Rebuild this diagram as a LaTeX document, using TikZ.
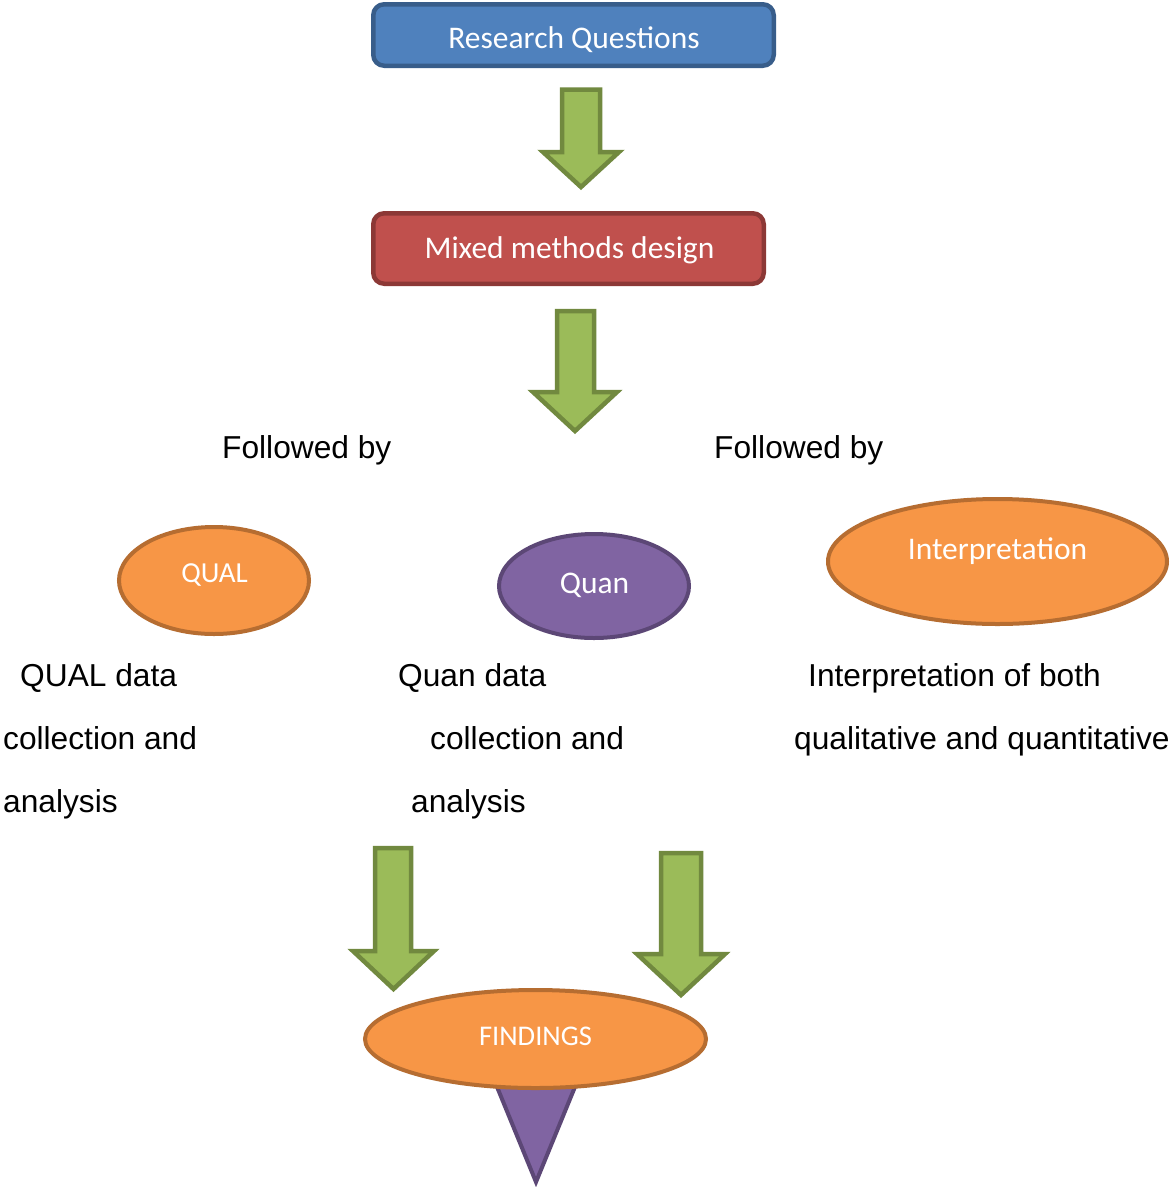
\documentclass[tikz,border=0pt]{standalone}
\usepackage{fontspec}
\setmainfont{Liberation Sans}
\newfontfamily\calibri{Carlito}
\usetikzlibrary{shapes.geometric}

\definecolor{blueFill}{HTML}{4F81BD}
\definecolor{blueLine}{HTML}{385D8A}
\definecolor{redFill}{HTML}{C0504D}
\definecolor{redLine}{HTML}{8C3836}
\definecolor{greenFill}{HTML}{9BBB59}
\definecolor{greenLine}{HTML}{71893F}
\definecolor{orangeFill}{HTML}{F79646}
\definecolor{orangeLine}{HTML}{B66D31}
\definecolor{purpleFill}{HTML}{8064A2}
\definecolor{purpleLine}{HTML}{5C4776}

% block arrow pointing down:
% #1,#2 shaft left/right, #3 shaft top, #4,#5 head left/right, #6 head top, #7 tip
\newcommand\blockdown[7]{%
  \draw[greenarrow] (#1,#3) -- (#2,#3) -- (#2,#6) -- (#5,#6)
    -- ({(#4+#5)/2},#7) -- (#4,#6) -- (#1,#6) -- cycle;}

\begin{document}
\begin{tikzpicture}[x=1pt,y=-1pt,
  greenarrow/.style={fill=greenFill,draw=greenLine,line width=4.5pt,line join=miter},
  boxshape/.style={rectangle,rounded corners=11pt,line width=4.5pt,inner sep=0pt},
  oval/.style={ellipse,line width=4pt,inner sep=0pt},
  inlabel/.style={text=white,inner sep=0pt,anchor=base,font=\calibri\fontsize{31.5}{36}\selectfont},
  smalllabel/.style={inlabel,font=\calibri\fontsize{29}{34}\selectfont},
  bodytext/.style={inner sep=0pt,anchor=base west,font=\fontsize{31.7}{38}\selectfont}]

\fill[white] (0,0) rectangle (1173,1187);
\useasboundingbox (0,0) rectangle (1173,1187);

% top boxes
\node[boxshape,fill=blueFill,draw=blueLine,minimum width=400.5pt,minimum height=61.5pt] (rq) at (573.5,35) {};
\node[inlabel] (rqtext) at (574,48) {Research Questions};

\blockdown{562}{600}{89.5}{543}{619}{152}{187}

\node[boxshape,fill=redFill,draw=redLine,minimum width=390.5pt,minimum height=70.5pt] (mm) at (568.5,248.5) {};
\node[inlabel] (mmtext) at (569.5,258) {Mixed methods design};

\blockdown{557}{594}{311}{533}{617}{392}{431}

% connecting phrases
\node[bodytext] (fb1) at (222,458) {Followed by};
\node[bodytext] (fb2) at (714,458) {Followed by};

% the three strands
\node[oval,fill=orangeFill,draw=orangeLine,minimum width=190pt,minimum height=107pt] (qual) at (214,580.5) {};
\node[smalllabel] (qualtext) at (214.5,582) {QUAL};

\node[oval,fill=purpleFill,draw=purpleLine,minimum width=190pt,minimum height=104pt] (quan) at (594,586) {};
\node[inlabel] (quantext) at (594.5,593) {Quan};

\node[oval,fill=orangeFill,draw=orangeLine,minimum width=339pt,minimum height=125pt] (interp) at (997.5,561.5) {};
\node[inlabel] (interptext) at (997.5,559) {Interpretation};

% descriptions
\node[bodytext] (q1) at (20,686) {QUAL data};
\node[bodytext] (q2) at (3,749) {collection and};
\node[bodytext] (q3) at (3,812) {analysis};

\node[bodytext] (n1) at (398,686) {Quan data};
\node[bodytext] (n2) at (430,749) {collection and};
\node[bodytext] (n3) at (411,812) {analysis};

\node[bodytext] (i1) at (808,686) {Interpretation of both};
\node[bodytext] (i2) at (794,749) {qualitative and quantitative};

% merge into findings
\blockdown{375}{411}{848}{353}{434}{951}{989}
\blockdown{661}{701}{853}{637}{725}{954}{995}

\draw[fill=purpleFill,draw=purpleLine,line width=4pt,line join=miter] (486,1060) -- (586,1060) -- (536,1182) -- cycle;

\node[oval,fill=orangeFill,draw=orangeLine,minimum width=341pt,minimum height=98pt] (find) at (535.5,1039) {};
\node[smalllabel,font=\calibri\fontsize{28.5}{34}\selectfont] (findtext) at (535.5,1045) {FINDINGS};

\end{tikzpicture}
\end{document}
